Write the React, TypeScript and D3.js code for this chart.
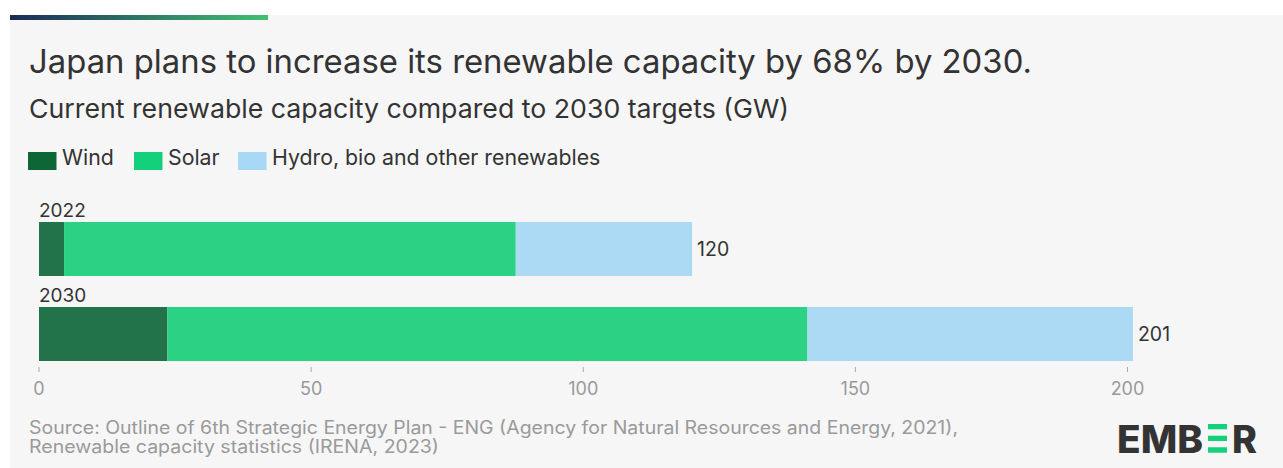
import React from "react";
import * as d3 from "d3";

const years = ["2022", "2030"];
const wind = [4.6, 23.6];
const solar = [83.0, 117.6];
const other = [32.4, 59.8];
const totals = [120, 201];
const xTicks = [0, 50, 100, 150, 200];
const seriesNames = ["Wind", "Solar", "Hydro, bio and other renewables"];
const barColors = ["#22734a", "#2cd283", "#acdaf4"];
const legendColors = ["#0e6535", "#13d17a", "#a7d8f5"];

const W = 1283;
const H = 468;
const FONT = "Inter, 'Noto Sans', sans-serif";

export default function App() {
  const x = d3.scaleLinear().domain([0, 200]).range([39, 1127.5]);
  const y = d3.scaleOrdinal<string, number>().domain(years).range([222, 307]);
  const barH = 54;
  const stackData = years.map((yr, i) => ({ year: yr, Wind: wind[i], Solar: solar[i], Other: other[i] }));
  const stack = d3.stack<any>().keys(["Wind", "Solar", "Other"])(stackData);

  const legendX = [28, 134, 238];

  return (
    <svg width={W} height={H} style={{ display: "block", position: "absolute", left: 0, top: 0 }}>
      <defs>
        <linearGradient id="topgrad" x1="0" x2="1" y1="0" y2="0">
          <stop offset="0%" stopColor="#1b2a5a" />
          <stop offset="100%" stopColor="#41c170" />
        </linearGradient>
      </defs>
      <rect x={0} y={0} width={W} height={H} fill="#ffffff" />
      <rect x={10} y={15} width={W - 10} height={H - 15} fill="#f6f6f6" />
      <rect x={10} y={15} width={258} height={5} fill="url(#topgrad)" />

      <text x={29} y={73} fontFamily={FONT} fontSize={32.5} fill="#333" textLength={1003} lengthAdjust="spacingAndGlyphs">
        Japan plans to increase its renewable capacity by 68% by 2030.
      </text>
      <text x={29} y={118} fontFamily={FONT} fontSize={26} fill="#333" textLength={760} lengthAdjust="spacingAndGlyphs">
        Current renewable capacity compared to 2030 targets (GW)
      </text>

      {seriesNames.map((s, i) => (
        <g key={s}>
          <rect x={legendX[i]} y={152} width={28.5} height={18} fill={legendColors[i]} />
          <text x={legendX[i] + 34} y={165} fontFamily={FONT} fontSize={21.3} fill="#333">
            {s}
          </text>
        </g>
      ))}

      {years.map((yr) => (
        <text key={yr} x={39} y={y(yr) - 5} fontFamily={FONT} fontSize={19} fill="#333">
          {yr}
        </text>
      ))}

      {stack.map((layer, li) =>
        layer.map((d, i) => (
          <rect
            key={`${li}-${i}`}
            x={x(d[0])}
            y={y(years[i])}
            width={x(d[1]) - x(d[0])}
            height={barH}
            fill={barColors[li]}
          />
        ))
      )}

      {years.map((yr, i) => (
        <text
          key={"t" + yr}
          x={x(totals[i]) + 5}
          y={y(yr) + barH / 2 + 7}
          fontFamily={FONT}
          fontSize={19.5}
          fill="#333"
        >
          {totals[i]}
        </text>
      ))}

      {xTicks.map((t) => (
        <g key={t}>
          <line x1={x(t)} x2={x(t)} y1={367} y2={372} stroke="#aaa" strokeWidth={1} />
          <text x={x(t)} y={394.5} textAnchor="middle" fontFamily={FONT} fontSize={18} fill="#999">
            {t}
          </text>
        </g>
      ))}

      <text x={29} y={434} fontFamily={FONT} fontSize={18} fill="#9a9a9a" textLength={929} lengthAdjust="spacingAndGlyphs">
        Source: Outline of 6th Strategic Energy Plan - ENG (Agency for Natural Resources and Energy, 2021),
      </text>
      <text x={29} y={452.7} fontFamily={FONT} fontSize={18} fill="#9a9a9a" textLength={410} lengthAdjust="spacingAndGlyphs">
        Renewable capacity statistics (IRENA, 2023)
      </text>

      <g fontFamily={FONT} fontWeight={800} fontSize={38} fill="#333">
        <text x={1117} y={452.7} textLength={86} lengthAdjust="spacingAndGlyphs">EMB</text>
        <rect x={1208} y={424} width={19} height={5.3} fill="#13d17a" />
        <rect x={1208} y={435.7} width={19} height={5.3} fill="#13d17a" />
        <rect x={1208} y={447.3} width={19} height={5.4} fill="#13d17a" />
        <text x={1232} y={452.7} textLength={25} lengthAdjust="spacingAndGlyphs">R</text>
      </g>
    </svg>
  );
}
